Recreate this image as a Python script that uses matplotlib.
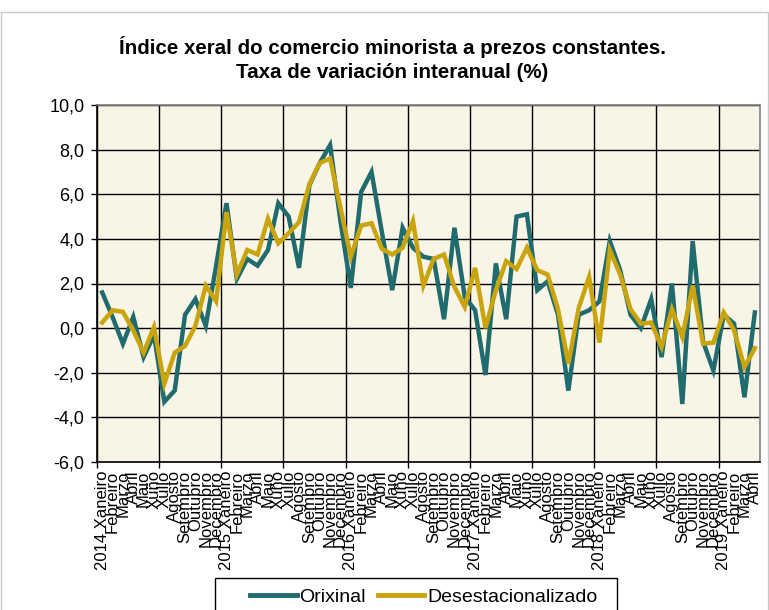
import matplotlib
matplotlib.use("Agg")
import matplotlib.pyplot as plt
from matplotlib.lines import Line2D
from matplotlib.patches import Rectangle

plt.rcParams['font.family'] = ['Liberation Sans', 'DejaVu Sans']

months = ["Xaneiro", "Febreiro", "Marzo", "Abril", "Maio", "Xuño", "Xullo",
          "Agosto", "Setembro", "Outubro", "Novembro", "Decembro"]
years = [2014, 2015, 2016, 2017, 2018, 2019]
n_points = 64
labels = []
for k in range(n_points):
    y, m = divmod(k, 12)
    labels.append(f"{years[y]} {months[m]}" if m == 0 else months[m])

orixinal = [1.6, 0.5, -0.7, 0.5, -1.3, -0.3, -3.3, -2.8, 0.6, 1.3, 0.1, 2.8,
            5.6, 2.2, 3.1, 2.8, 3.5, 5.6, 5.0, 2.7, 6.4, 7.4, 8.2, 4.8,
            1.8, 6.1, 7.0, 4.3, 1.7, 4.5, 3.6, 3.2, 3.1, 0.4, 4.5, 1.4,
            0.8, -2.1, 2.9, 0.4, 5.0, 5.1, 1.7, 2.1, 0.6, -2.8, 0.6, 0.8,
            1.2, 3.9, 2.6, 0.6, 0.0, 1.3, -1.3, 2.0, -3.4, 3.9, -0.6, -1.9,
            0.6, 0.2, -3.1, 0.7]
desestacionalizado = [0.25, 0.8, 0.73, -0.1, -1.1, 0.05, -2.5, -1.1, -0.8, 0.1, 1.9, 1.2,
                      5.2, 2.4, 3.5, 3.3, 4.9, 3.8, 4.25, 4.75, 6.45, 7.4, 7.6, 5.4,
                      3.2, 4.6, 4.7, 3.55, 3.3, 3.6, 4.8, 1.9, 3.1, 3.3, 1.85, 0.95,
                      2.7, 0.0, 1.7, 3.0, 2.65, 3.6, 2.6, 2.4, 0.85, -1.6, 0.9, 2.3,
                      -0.65, 3.5, 2.4, 0.85, 0.2, 0.25, -0.85, 0.85, -0.4, 1.9, -0.7, -0.65,
                      0.7, -0.1, -1.75, -0.9]
yticks = [-6, -4, -2, 0, 2, 4, 6, 8, 10]

teal = "#1f6b6e"
gold = "#c9a40c"

W, H = 769, 610
fig = plt.figure(figsize=(W / 100, H / 100), dpi=100)
fig.patch.set_facecolor("white")
# outer chart border
fig.add_artist(Rectangle((0.5 / W, -0.1), (W - 1.5) / W, (H - 12) / H + 0.1,
                         transform=fig.transFigure, fill=False,
                         edgecolor="#c8c8c8", lw=1.0))

ax = fig.add_axes([97 / W, 1 - 462 / H, (760 - 97) / W, (462 - 105) / H])
ax.set_facecolor("#f8f4e6")

x = list(range(n_points))
ax.plot(x, orixinal, color=teal, lw=3.2, solid_joinstyle="miter", zorder=3)
ax.plot(x, desestacionalizado, color=gold, lw=3.2, solid_joinstyle="miter", zorder=4)

ax.set_xlim(-0.5, n_points - 0.5)
ax.set_ylim(-6, 10)
ax.set_yticks(yticks)
ax.set_yticklabels([f"{v:.1f}".replace(".", ",") for v in yticks], fontsize=13)
ax.tick_params(axis="y", length=4, width=1, direction="out", pad=5)

ax.set_xticks(x)
ax.set_xticklabels(labels, rotation=90, fontsize=12, ha="center", va="top")
ax.tick_params(axis="x", length=0, pad=6)
ax.set_xticks([-0.5 + 6 * k for k in range(11)], minor=True)
ax.tick_params(axis="x", which="minor", length=4, width=1)

ax.grid(False)
for k in range(11):
    ax.axvline(-0.5 + 6 * k, color="black", lw=1.0, zorder=1)
for v in yticks:
    ax.axhline(v, color="black", lw=1.0, zorder=1)

for s in ["top", "right"]:
    ax.spines[s].set_color("#808080")
    ax.spines[s].set_linewidth(1.2)
for s in ["left", "bottom"]:
    ax.spines[s].set_color("black")
    ax.spines[s].set_linewidth(1.2)

fig.text(0.51, 1 - 47 / H, "Índice xeral do comercio minorista a prezos constantes.",
         ha="center", va="center", fontsize=14.8, fontweight="bold")
fig.text(0.51, 1 - 73 / H, "Taxa de variación interanual (%)",
         ha="center", va="center", fontsize=14.8, fontweight="bold")

# legend box
fig.add_artist(Rectangle((215 / W, -0.1), (617 - 215) / W, (H - 578) / H + 0.1,
                         transform=fig.transFigure, fill=False,
                         edgecolor="black", lw=1.0))
handles = [Line2D([], [], color=teal, lw=3.5), Line2D([], [], color=gold, lw=3.5)]
leg = fig.legend(handles, ["Orixinal", "Desestacionalizado"], loc="center left",
                 bbox_to_anchor=(250 / W, 1 - 597 / H), ncol=2, fontsize=14,
                 frameon=False, handlelength=2.4, handletextpad=0.15,
                 columnspacing=0.6, borderpad=0, borderaxespad=0)

fig.savefig("out.png", dpi=100)
